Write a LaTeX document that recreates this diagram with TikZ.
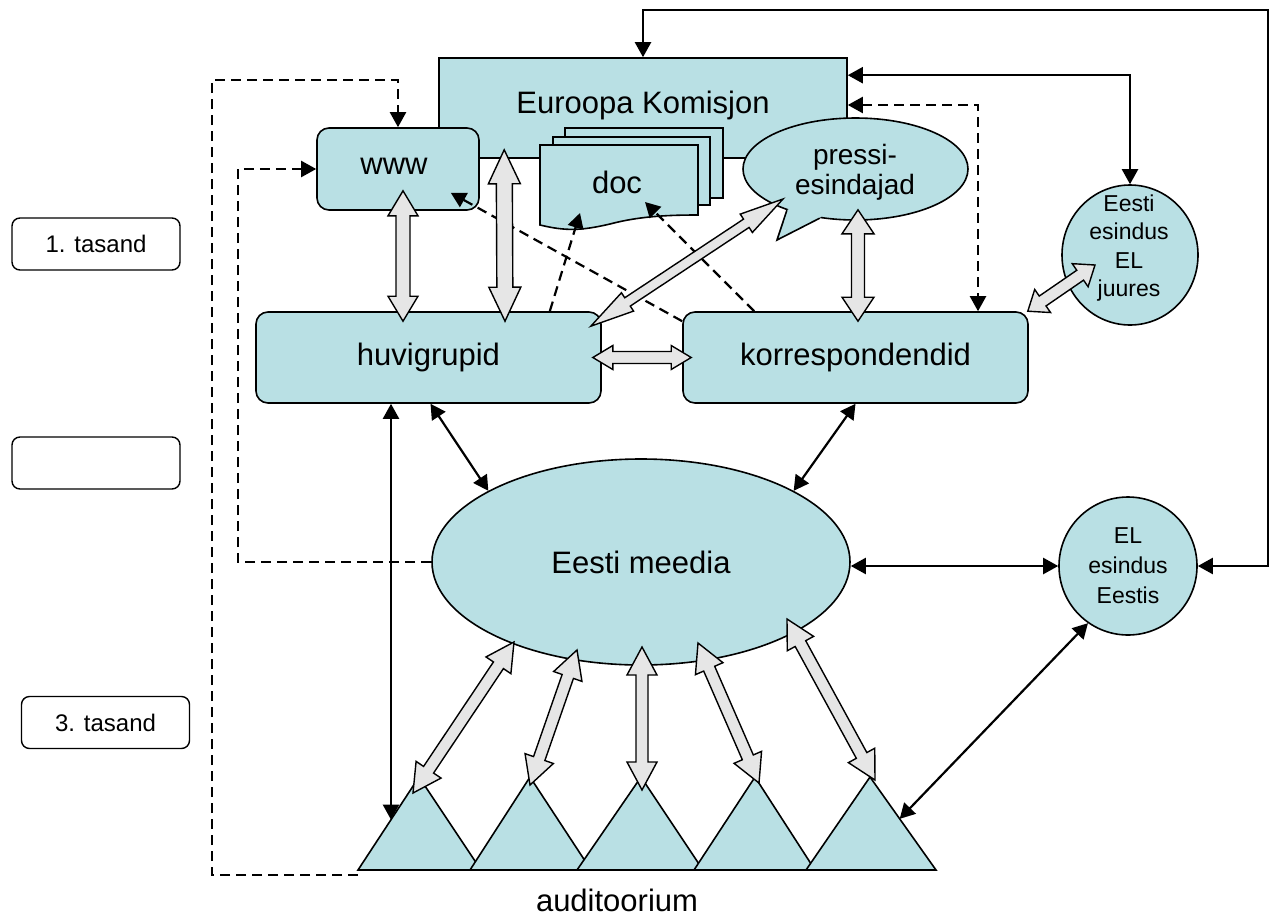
\documentclass[tikz,border=0pt]{standalone}
\usepackage{fontspec}
\setmainfont{Liberation Sans}
\usetikzlibrary{arrows.meta,calc,shapes.geometric}
\definecolor{fillb}{HTML}{B9E0E4}
\definecolor{arrg}{HTML}{E6E6E6}
% double block arrow: from, to, head length, head half width, shaft half width
\newcommand\barrow[5]{%
 \draw[blk] (#1) -- ($(#1)!#3!(#2)!#4!90:(#2)$) -- ($(#1)!#3!(#2)!#5!90:(#2)$)
  -- ($(#2)!#3!(#1)!#5!-90:(#1)$) -- ($(#2)!#3!(#1)!#4!-90:(#1)$) -- (#2)
  -- ($(#2)!#3!(#1)!#4!90:(#1)$) -- ($(#2)!#3!(#1)!#5!90:(#1)$)
  -- ($(#1)!#3!(#2)!#5!-90:(#2)$) -- ($(#1)!#3!(#2)!#4!-90:(#2)$) -- cycle;}
\begin{document}
\begin{tikzpicture}[x=1pt,y=-1pt,
  shp/.style={draw, line width=1.6pt, fill=fillb},
  rbox/.style={shp, rounded corners=12pt, inner sep=0pt},
  big/.style={font=\fontsize{31}{36}\selectfont},
  mid/.style={font=\fontsize{23}{28.5}\selectfont, align=center},
  lbox/.style={draw, line width=1.4pt, rounded corners=8pt, minimum width=168pt, minimum height=52pt, inner sep=0pt, font=\fontsize{24}{28}\selectfont},
  blk/.style={draw, line width=1.4pt, fill=arrg, line join=miter},
  thinl/.style={line width=2.2pt},
  dsh/.style={line width=2.2pt, dash pattern=on 10pt off 6pt},
  >={Triangle[length=15pt,width=16pt]}]
\useasboundingbox (0,0) rectangle (1272,919);

% Euroopa Komisjon
\node[shp, minimum width=408pt, minimum height=100pt, inner sep=0pt] (EK) at (643,108) {};
\node[big] (EKt) at (643,105) {Euroopa Komisjon};

% doc stack
\filldraw[shp] (565,128) rectangle (723,198);
\filldraw[shp] (553,137) rectangle (710,205);
\filldraw[shp] (540,145) -- (698,145) -- (698,215) .. controls (670,215) and (640,216) .. (610,224) .. controls (580,231) and (565,231) .. (540,225) -- cycle;
\node[big] (doct) at (617,182) {doc};
\coordinate (docA) at (580,213);
\coordinate (docB) at (645,202);

% www
\node[rbox, minimum width=162pt, minimum height=82pt] (www) at (398,169) {};
\node[big] (wwwt) at (394,166) {www};

% pressi-esindajad callout
\node[shp, ellipse, minimum width=225pt, minimum height=102pt, inner sep=0pt] (pr) at (855.5,169) {};
\coordinate (prtip) at (777,240);
\fill[fillb] (pr.211) -- (prtip) -- (pr.234) -- (pr.center) -- cycle;
\draw[line width=1.6pt, line join=miter] (pr.211) -- (prtip) -- (pr.234);
\node[font=\fontsize{28}{30}\selectfont, align=center] (prt) at (855,172) {pressi-\\esindajad};

% middle boxes
\node[rbox, big, minimum width=345pt, minimum height=91pt] (hu) at (428.5,357.5) {huvigrupid};
\node[rbox, big, minimum width=345pt, minimum height=91pt] (korr) at (855.5,357.5) {korrespondendid};

% Eesti esindus EL juures
\node[shp, ellipse, minimum width=136pt, minimum height=140pt, inner sep=0pt] (EE) at (1130,255) {};
\node[mid] (EEt) at (1129,248) {Eesti\\esindus\\EL\\juures};

% EL esindus Eestis
\node[shp, circle, minimum size=138pt, inner sep=0pt, font=\fontsize{23}{30}\selectfont, align=center] (EL) at (1128,566) {EL\\esindus\\Eestis};

% Eesti meedia
\node[shp, ellipse, minimum width=418pt, minimum height=206pt, inner sep=0pt, big] (med) at (641,562) {Eesti meedia};

% left level boxes
\node[lbox] (l1) at (96,244) {1. tasand};
\node[lbox] (l2) at (96,463) {};
\node[lbox] (l3) at (105.5,722.5) {3. tasand};

% audience triangles
\foreach \i/\ax/\lx/\rx in {1/419/358/481, 2/530/470/591, 3/641/577/703, 4/755/694/815, 5/870/806/936}{
  \coordinate (ta\i) at (\ax,777);
  \coordinate (tl\i) at (\lx,870);
  \coordinate (tr\i) at (\rx,870);
  \filldraw[shp, line join=miter] (ta\i) -- (tl\i) -- (tr\i) -- cycle;
}
\node[big] (aud) at (617,900) {auditoorium};
\coordinate (t1s) at ($(ta1)!0.459!(tl1)$);
\coordinate (t5s) at ($(ta5)!0.45!(tr5)$);

% dashed connectors
\coordinate (dc1) at (212,80);
\coordinate (dc2) at (238,169);
\coordinate (dc3) at (978,105);
\draw[dsh,->] ($(tl1)+(0,5)$) -| (dc1) -| (www.north);
\draw[dsh,->] (med.west) -| (dc2) -- (www.west);
\draw[dsh,<->] (EK.east |- dc3) -| (korr.north -| dc3);
\draw[dsh,->] ($(korr.north west)+(0,10)$) -- ($(www.south east)+(-29,-18)$);
\draw[dsh,->] ($(korr.north west)+(72,0)$) -- (docB);
\draw[dsh,->] ($(hu.north east)+(-52,0)$) -- (docA);

% thin solid connectors
\coordinate (topR) at (1268,10);
\draw[thinl,<->] (EK.north) |- (topR) |- (EL.east);
\draw[thinl,<->] ($(EK.north east)+(0,18)$) -| (EE.north);
\draw[thinl,<->] (EL.west -| med.east) -- (EL.west);
\draw[thinl,<->] ($(hu.south)+(2,0)$) -- (med.155);
\draw[thinl,<->] (korr.south) -- (med.25);
\draw[thinl,<->] (t1s |- hu.south) -- (t1s);
\draw[thinl,<->] (EL.235) -- (t5s);

% block arrows
\coordinate (b1a) at ($(www.south)+(5,-20)$);
\coordinate (b1b) at ($(hu.north)+(-25.5,10)$);
\coordinate (b2a) at ($(EK.south west)+(66,-9)$);
\coordinate (b2b) at ($(hu.north)+(76.5,10)$);
\coordinate (b3a) at ($(pr.south)+(2.5,-11)$);
\coordinate (b3b) at ($(korr.north)+(2.5,10)$);
\coordinate (b4a) at ($(hu.north east)+(-11,15)$);
\coordinate (b4b) at ($(pr.center)+(-72.5,30)$);
\coordinate (b5a) at ($(hu.east)+(-9,0)$);
\coordinate (b5b) at ($(korr.west)+(9,0)$);
\coordinate (b6a) at ($(korr.north east)+(-1,0)$);
\coordinate (b6b) at ($(EE.center)+(-35,10)$);
\barrow{b1a}{b1b}{25pt}{15pt}{7pt}
\barrow{b2a}{b2b}{34pt}{16pt}{8pt}
\barrow{b3a}{b3b}{24pt}{16pt}{6.5pt}
\barrow{b4a}{b4b}{44pt}{11pt}{5pt}
\barrow{b5a}{b5b}{20pt}{12pt}{6pt}
\barrow{b6a}{b6b}{18pt}{14pt}{6pt}

\coordinate (m1a) at ($(med.center)+(-127,80)$);
\coordinate (m1b) at ($(ta1)+(-6,16)$);
\coordinate (m2a) at ($(med.center)+(-64,88)$);
\coordinate (m2b) at ($(ta2)+(0,8)$);
\coordinate (m3a) at ($(med.center)+(1,85)$);
\coordinate (m3b) at ($(ta3)+(1,13)$);
\coordinate (m4a) at ($(med.center)+(57,81)$);
\coordinate (m4b) at ($(ta4)+(4,6)$);
\coordinate (m5a) at ($(med.center)+(146,57)$);
\coordinate (m5b) at ($(ta5)+(5,3)$);
\foreach \k in {1,...,5}{\barrow{m\k a}{m\k b}{28pt}{15pt}{6pt}}
\end{tikzpicture}
\end{document}
